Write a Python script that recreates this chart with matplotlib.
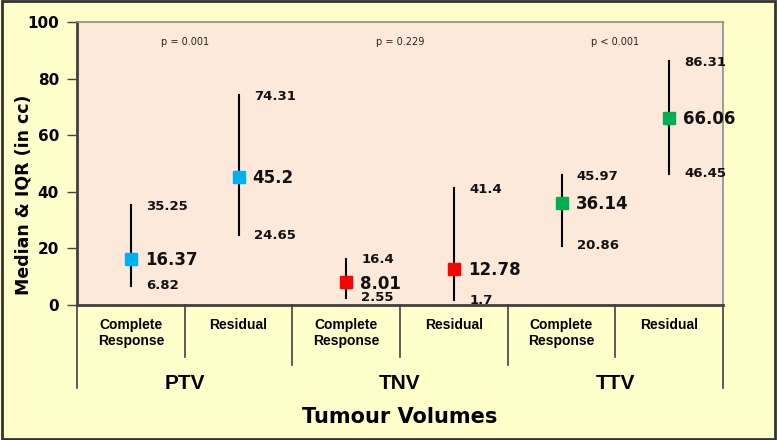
import matplotlib
matplotlib.use("Agg")
import matplotlib.pyplot as plt
from matplotlib.transforms import blended_transform_factory
from matplotlib.patches import Rectangle

groups = ["PTV", "TNV", "TTV"]
subcats = ["Complete\nResponse", "Residual"] * 3
medians = [16.37, 45.2, 8.01, 12.78, 36.14, 66.06]
q1 = [6.82, 24.65, 2.55, 1.7, 20.86, 46.45]
q3 = [35.25, 74.31, 16.4, 41.4, 45.97, 86.31]
colors = ["#00B0F0", "#00B0F0", "#FF0000", "#FF0000", "#00B050", "#00B050"]
pvalues = ["p = 0.001", "p = 0.229", "p < 0.001"]
yticks = [0, 20, 40, 60, 80, 100]

plt.rcParams['font.family'] = ['DejaVu Sans']
fig = plt.figure(figsize=(7.77, 4.40), dpi=100)
fig.patch.set_facecolor("#FFFFCC")
fig.patches.append(Rectangle((0.002, 0.003), 0.996, 0.994, transform=fig.transFigure,
                             fill=False, edgecolor="#333333", linewidth=2))
ax = fig.add_axes([77/777, 1-305/440, 646/777, 283/440])
ax.set_facecolor("#FDE9DA")
ax.set_xlim(0, 6)
ax.set_ylim(0, 100)

xs = [i + 0.5 for i in range(6)]
for x, m, lo, hi, c in zip(xs, medians, q1, q3, colors):
    ax.plot([x, x], [lo, hi], color="black", lw=1.5, zorder=2)
    ax.plot([x], [m], marker="s", ms=9, color=c, zorder=3, linestyle="none")
    ax.annotate(f"{m:g}", (x, m), xytext=(10, -1), textcoords="offset points",
                va="center", ha="left", fontsize=12, fontweight="bold", color="#111111")
    ax.annotate(f"{hi:g}", (x, hi), xytext=(11, -1), textcoords="offset points",
                va="center", ha="left", fontsize=9.5, fontweight="bold", color="#111111")
    ax.annotate(f"{lo:g}", (x, lo), xytext=(11, 0), textcoords="offset points",
                va="center", ha="left", fontsize=9.5, fontweight="bold", color="#111111")

for g, p in enumerate(pvalues):
    ax.text(2*g + 1, 93, p, ha="center", va="center", fontsize=7, color="#222222")

ax.set_xticks([])
ax.set_yticks(yticks)
ax.set_yticklabels([str(t) for t in yticks], fontsize=11, fontweight="bold")
ax.tick_params(axis="y", direction="out", length=7, width=1, color="#404040", pad=6)
for s in ["top", "right"]:
    ax.spines[s].set_color("#8C8C8C")
    ax.spines[s].set_linewidth(1.2)
for s in ["left", "bottom"]:
    ax.spines[s].set_color("#404040")
    ax.spines[s].set_linewidth(2)

fig.text(24/777, 1-195/440, "Median & IQR (in cc)", rotation=90, ha="center", va="center",
         fontsize=12.5, fontweight="bold")

tr = blended_transform_factory(ax.transData, ax.transAxes)
H = 283.0
def ya(py):
    return (305 - py) / H

for i, lab in enumerate(subcats):
    ax.text(xs[i], ya(318), lab, transform=tr, ha="center", va="top",
            fontsize=10, fontweight="bold", family="Liberation Sans", linespacing=1.2)
for g, lab in enumerate(groups):
    ax.text(2*g + 1, ya(383), lab, transform=tr, ha="center", va="center",
            fontsize=15, fontweight="bold", family="Liberation Sans")

for xd in [1, 3, 5]:
    ax.plot([xd, xd], [0, ya(357)], transform=tr, color="#404040", lw=1.2, clip_on=False)
for xd in [2, 4]:
    ax.plot([xd, xd], [0, ya(365)], transform=tr, color="#404040", lw=1.2, clip_on=False)
for xd in [0, 6]:
    ax.plot([xd, xd], [0, ya(388)], transform=tr, color="#404040", lw=1.2, clip_on=False)

fig.text(400/777, 1-417/440, "Tumour Volumes", ha="center", va="center",
         fontsize=15, fontweight="bold")

fig.savefig("out.png", dpi=100, facecolor=fig.get_facecolor())
